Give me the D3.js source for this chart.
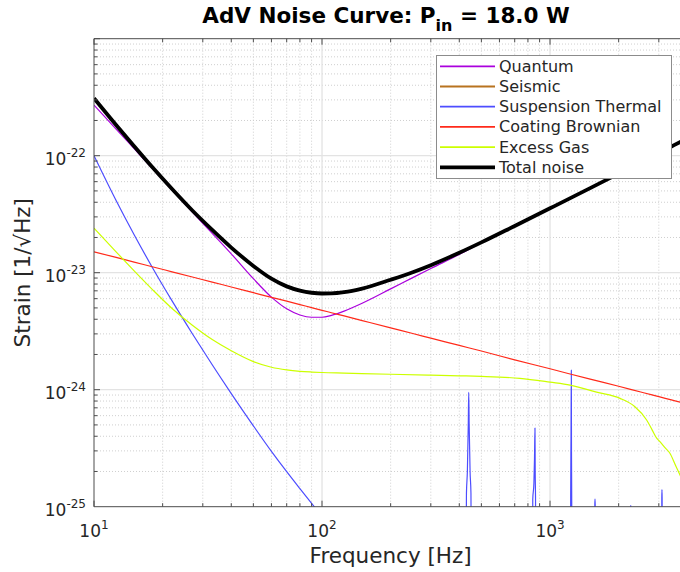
<!DOCTYPE html>
<html>
<head>
<meta charset="utf-8">
<script src="https://cdn.jsdelivr.net/npm/d3@7/dist/d3.min.js"></script>
<style>
  body { margin: 0; background: #fff; }
  text { font-family: "DejaVu Sans", sans-serif; }
</style>
</head>
<body>
<div id="chart"></div>
<script>
// frequency grid shared by quantum, coating and total [Hz]
var freq = [10, 12.5, 15, 18, 22, 27, 33, 40, 50, 60, 70, 80, 90, 100, 110, 125, 150,
            200, 250, 300, 400, 500, 700, 1000, 1500, 2000, 2500, 2800, 3000, 3200, 3500, 4000];

var quantum = [2.71e-22, 1.69e-22, 1.148e-22, 7.8e-23, 5.09e-23, 3.30e-23, 2.17e-23, 1.45e-23,
               8.89e-24, 6.18e-24, 4.91e-24, 4.35e-24, 4.16e-24, 4.16e-24, 4.32e-24, 4.70e-24, 5.48e-24,
               7.27e-24, 9.08e-24, 1.086e-23, 1.43e-23, 1.80e-23, 2.50e-23, 3.54e-23, 5.26e-23,
               6.99e-23, 8.74e-23, 9.80e-23, 1.051e-22, 1.122e-22, 1.227e-22, 1.403e-22];

var coating = [1.51e-23, 1.35e-23, 1.233e-23, 1.125e-23, 1.018e-23, 9.19e-24, 8.31e-24, 7.55e-24,
               6.75e-24, 6.16e-24, 5.71e-24, 5.34e-24, 5.03e-24, 4.77e-24, 4.55e-24, 4.27e-24, 3.90e-24,
               3.38e-24, 3.02e-24, 2.76e-24, 2.39e-24, 2.14e-24, 1.80e-24, 1.51e-24, 1.23e-24,
               1.07e-24, 9.55e-25, 9.02e-25, 8.72e-25, 8.44e-25, 8.07e-25, 7.55e-25];

var total = [3.10e-22, 1.83e-22, 1.205e-22, 7.99e-23, 5.19e-23, 3.40e-23, 2.32e-23, 1.64e-23,
             1.143e-23, 8.89e-24, 7.64e-24, 7.03e-24, 6.74e-24, 6.64e-24, 6.65e-24, 6.81e-24, 7.32e-24,
             8.71e-24, 1.01e-23, 1.16e-23, 1.48e-23, 1.815e-23, 2.51e-23, 3.55e-23, 5.28e-23,
             7.03e-23, 8.79e-23, 9.84e-23, 1.054e-22, 1.125e-22, 1.23e-22, 1.406e-22];

// excess gas, with the high-frequency roll-off
var gasFreq = [10, 12.5, 15, 18, 22, 27, 33, 40, 50, 60, 70, 80, 90, 100, 125, 150, 200, 300,
               400, 500, 738, 1000, 1224, 1600, 2028, 2350, 2653, 2800, 2936, 3034, 3200, 3356,
               3550, 3715, 4000];
var excessGas = [2.40e-23, 1.507e-23, 1.037e-23, 7.21e-24, 4.94e-24, 3.55e-24, 2.68e-24, 2.15e-24,
                 1.738e-24, 1.556e-24, 1.476e-24, 1.436e-24, 1.416e-24, 1.403e-24, 1.387e-24, 1.374e-24,
                 1.355e-24, 1.33e-24, 1.315e-24, 1.30e-24, 1.25e-24, 1.16e-24, 1.096e-24, 9.53e-25,
                 8.43e-25, 7.18e-25, 5.51e-25, 4.56e-25, 3.85e-25, 3.6e-25, 3.18e-25, 2.86e-25,
                 2.26e-25, 1.87e-25, 1.34e-25];

// seismic stays below the plotted range
var seismicFreq = [10, 15, 20, 30, 50];
var seismic = [5e-26, 4e-27, 6e-28, 3e-29, 5e-31];

// suspension thermal with violin-mode resonances
var suspFreq = [10, 12.5, 15, 18, 22, 27, 33, 40, 50, 60, 70, 80, 93, 100, 200, 400,
                425, 430, 434, 438, 440, 442, 446, 450, 455,
                700, 835, 840, 850, 855, 859, 861, 864, 870,
                1000, 1225, 1232, 1236, 1240, 1242, 1245, 1250,
                1500, 1568, 1572, 1575, 1578, 1582,
                2000, 2254, 2257, 2260, 2263, 2266,
                2800, 3088, 3092, 3097, 3102, 3106, 4000];
var suspension = [1.0e-22, 4.14e-23, 2.11e-23, 1.114e-23, 5.74e-24, 3.01e-24, 1.633e-24, 9.27e-25,
                  4.91e-25, 2.97e-25, 1.99e-25, 1.426e-25, 9.86e-26, 8.28e-26, 1.3e-26, 2.0e-27,
                  1.7e-27, 1.3e-25, 2.0e-25, 5.0e-25, 9.5e-25, 5.0e-25, 2.0e-25, 1.3e-25, 1.5e-27,
                  5e-28, 3.5e-28, 1.15e-25, 1.6e-25, 2.6e-25, 4.7e-25, 2.0e-25, 1.1e-25, 3.2e-28,
                  2.2e-28, 1.3e-28, 1.3e-25, 3.9e-25, 1.47e-24, 3.0e-25, 1.1e-25, 1.2e-28,
                  7e-29, 6e-29, 1.05e-25, 1.16e-25, 1.05e-25, 6e-29,
                  3e-29, 2.2e-29, 1.0e-25, 1.02e-25, 1.0e-25, 2.2e-29,
                  1.2e-29, 1e-29, 1.2e-25, 1.4e-25, 1.2e-25, 1e-29, 5e-30];

var xTickLabels = [[10, "1"], [100, "2"], [1000, "3"]];
var yTickLabels = [[1e-25, "-25"], [1e-24, "-24"], [1e-23, "-23"], [1e-22, "-22"]];

var width = 680, height = 572;
var pL = 94, pR = 687.3, pT = 38.7, pB = 506.7;
var axisColor = "#4d4d4d", textColor = "#262626";

var x = d3.scaleLog().domain([10, 4000]).range([pL, pR]);
var y = d3.scaleLog().domain([1e-25, 1e-21]).range([pB, pT]);

var svg = d3.select("#chart").append("svg")
    .attr("width", width)
    .attr("height", height);

svg.append("defs").append("clipPath").attr("id", "plot")
  .append("rect")
    .attr("x", pL).attr("y", pT)
    .attr("width", pR - pL).attr("height", pB - pT);

function isMajor(v) {
  var l = Math.log10(v);
  return Math.abs(l - Math.round(l)) < 1e-6;
}

var xt = x.ticks(), yt = y.ticks();

// grid
svg.append("g").selectAll("line")
    .data(xt.filter(function(d) { return !isMajor(d); }))
    .enter().append("line")
    .attr("x1", function(d) { return x(d); }).attr("x2", function(d) { return x(d); })
    .attr("y1", pT).attr("y2", pB)
    .attr("stroke", "#cfcfcf").attr("stroke-dasharray", "1,2");
svg.append("g").selectAll("line")
    .data(yt.filter(function(d) { return !isMajor(d); }))
    .enter().append("line")
    .attr("y1", function(d) { return y(d); }).attr("y2", function(d) { return y(d); })
    .attr("x1", pL).attr("x2", pR)
    .attr("stroke", "#cfcfcf").attr("stroke-dasharray", "1,2");
svg.append("g").selectAll("line")
    .data(xt.filter(function(d) { return isMajor(d) && d > 10; }))
    .enter().append("line")
    .attr("x1", function(d) { return x(d); }).attr("x2", function(d) { return x(d); })
    .attr("y1", pT).attr("y2", pB)
    .attr("stroke", "#e3e3e3").attr("stroke-width", 1.3);
svg.append("g").selectAll("line")
    .data(yt.filter(function(d) { return isMajor(d) && d > 1e-25 && d < 1e-21; }))
    .enter().append("line")
    .attr("y1", function(d) { return y(d); }).attr("y2", function(d) { return y(d); })
    .attr("x1", pL).attr("x2", pR)
    .attr("stroke", "#e3e3e3").attr("stroke-width", 1.3);

// curves
function pairs(fs, vs) {
  return fs.map(function(f, i) { return [f, vs[i]]; });
}
var line = d3.line()
    .curve(d3.curveMonotoneX)
    .x(function(d) { return x(d[0]); })
    .y(function(d) { return y(d[1]); });

var series = [
  { name: "Quantum", data: pairs(freq, quantum), color: "#aa00dd", w: 1.2 },
  { name: "Seismic", data: pairs(seismicFreq, seismic), color: "#b8731f", w: 1.2 },
  { name: "Suspension Thermal", data: pairs(suspFreq, suspension), color: "#4d4dff", w: 1.2 },
  { name: "Coating Brownian", data: pairs(freq, coating), color: "#ff2a1a", w: 1.2 },
  { name: "Excess Gas", data: pairs(gasFreq, excessGas), color: "#ccff00", w: 1.2 },
  { name: "Total noise", data: pairs(freq, total), color: "#000000", w: 3.8 }
];

svg.append("g").attr("clip-path", "url(#plot)")
  .selectAll("path")
    .data(series)
    .enter().append("path")
    .attr("d", function(d) { return line(d.data); })
    .attr("fill", "none")
    .attr("stroke", function(d) { return d.color; })
    .attr("stroke-width", function(d) { return d.w; })
    .attr("stroke-linejoin", "round");

// axes box and ticks
var ax = svg.append("g").attr("stroke", axisColor);
ax.append("line").attr("x1", pL).attr("x2", pR).attr("y1", pB).attr("y2", pB);
ax.append("line").attr("x1", pL).attr("x2", pR).attr("y1", pT).attr("y2", pT);
ax.append("line").attr("x1", pL).attr("x2", pL).attr("y1", pT).attr("y2", pB);

function tlen(d) { return isMajor(d) ? 6 : 3.5; }
ax.selectAll(".xb").data(xt).enter().append("line")
    .attr("x1", function(d) { return x(d); }).attr("x2", function(d) { return x(d); })
    .attr("y1", pB).attr("y2", function(d) { return pB - tlen(d); });
ax.selectAll(".xt").data(xt).enter().append("line")
    .attr("x1", function(d) { return x(d); }).attr("x2", function(d) { return x(d); })
    .attr("y1", pT).attr("y2", function(d) { return pT + tlen(d); });
ax.selectAll(".yl").data(yt).enter().append("line")
    .attr("y1", function(d) { return y(d); }).attr("y2", function(d) { return y(d); })
    .attr("x1", pL).attr("x2", function(d) { return pL + tlen(d); });

// tick labels
var xl = svg.append("g").selectAll("text")
    .data(xTickLabels)
    .enter().append("text")
    .attr("x", function(d) { return x(d[0]); })
    .attr("y", pB + 30)
    .attr("text-anchor", "middle")
    .attr("fill", textColor)
    .style("font-size", "17px");
xl.append("tspan").text("10");
xl.append("tspan").attr("dy", -8).style("font-size", "12px").text(function(d) { return d[1]; });

var yl = svg.append("g").selectAll("text")
    .data(yTickLabels)
    .enter().append("text")
    .attr("x", pL - 8)
    .attr("y", function(d) { return y(d[0]) + 9; })
    .attr("text-anchor", "end")
    .attr("fill", textColor)
    .style("font-size", "17px");
yl.append("tspan").text("10");
yl.append("tspan").attr("dy", -8).style("font-size", "12px").text(function(d) { return d[1]; });

// axis labels
svg.append("text")
    .attr("x", (pL + pR) / 2).attr("y", 563)
    .attr("text-anchor", "middle")
    .attr("fill", textColor)
    .style("font-size", "21.5px")
    .text("Frequency [Hz]");
svg.append("text")
    .attr("transform", "translate(30," + ((pT + pB) / 2) + ") rotate(-90)")
    .attr("text-anchor", "middle")
    .attr("fill", textColor)
    .style("font-size", "21.5px")
    .text("Strain [1/\u221AHz]");

// title
var title = svg.append("text")
    .attr("x", 386).attr("y", 23)
    .attr("text-anchor", "middle")
    .style("font-size", "21.5px")
    .style("font-weight", "bold");
title.append("tspan").text("AdV Noise Curve: P");
title.append("tspan").attr("dy", 8).style("font-size", "16px").text("in");
title.append("tspan").attr("dy", -8).text(" = 18.0 W");

// legend
var lg = svg.append("g");
lg.append("rect")
    .attr("x", 436.5).attr("y", 55.5)
    .attr("width", 235).attr("height", 123)
    .attr("fill", "#fff").attr("stroke", "#8c8c8c");
var row = lg.selectAll("g.row")
    .data(series)
    .enter().append("g")
    .attr("transform", function(d, i) { return "translate(0," + (66.3 + i * 20.2) + ")"; });
row.append("line")
    .attr("x1", 440).attr("x2", 495)
    .attr("stroke", function(d) { return d.color; })
    .attr("stroke-width", function(d) { return d.w > 2 ? 3.8 : 1.8; });
row.append("text")
    .attr("x", 499).attr("y", 5.5)
    .attr("fill", textColor)
    .style("font-size", "16px")
    .text(function(d) { return d.name; });
</script>
</body>
</html>
